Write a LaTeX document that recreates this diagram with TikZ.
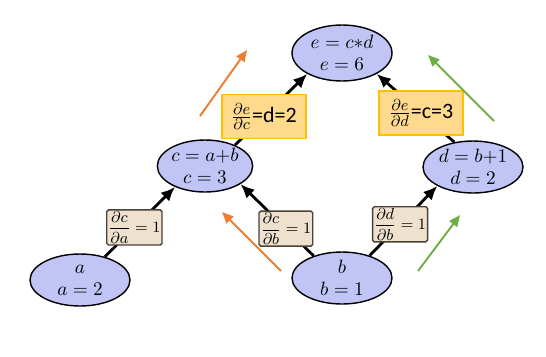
\documentclass[tikz,border=0pt]{standalone}
\usepackage{amsmath}
\usepackage{fontspec}
\usetikzlibrary{shapes.geometric,arrows.meta}

\newfontfamily\gradfont{Carlito}
\definecolor{varblue}{RGB}{192,197,245}
\definecolor{tanfill}{RGB}{238,225,205}
\definecolor{tanline}{RGB}{75,65,55}
\definecolor{goldfill}{RGB}{255,217,140}
\definecolor{goldline}{RGB}{255,192,0}
\definecolor{backorange}{RGB}{237,125,49}
\definecolor{backgreen}{RGB}{112,173,71}

\begin{document}
\begin{tikzpicture}[x=0.02cm, y=-0.02cm, line width=1.6pt,
  var/.style={ellipse, draw=black, line width=0.8pt, fill=varblue,
    minimum width=2cm, minimum height=1.04cm, inner sep=0pt, align=center,
    font=\fontsize{11}{12.5}\selectfont},
  deriv/.style={draw=tanline, line width=0.8pt, fill=tanfill,
    rounded corners=1pt, inner sep=0.9pt, font=\fontsize{9.2}{11}\selectfont},
  grad/.style={draw=goldline, line width=0.8pt, fill=goldfill,
    minimum width=1.68cm, minimum height=0.88cm, inner sep=1pt,
    font=\gradfont\fontsize{12.5}{14}\selectfont},
  flow/.style={-{Latex[length=8pt,width=7pt]}},
  hint/.style={line width=1.1pt, -{Triangle[length=6.5pt,width=5.5pt]}}]

\useasboundingbox (0,0) rectangle (546,356);

% variables
\node[var, minimum height=1.12cm] (e) at (342,53) {$e=c{*}d$\\$e=6$};
\node[var, minimum width=1.8cm] (c) at (205,166) {$c=a{+}b$\\$c=3$};
\node[var] (d) at (473,167) {$d=b{+}1$\\$d=2$};
\node[var] (a) at (80,280) {$a$\\$a=2$};
\node[var] (b) at (342,278) {$b$\\$b=1$};

% local derivatives on the edges
\draw[flow] (a.43) -- node[deriv, pos=0.42] (dca)
  {$\dfrac{\partial c}{\partial a}=1$} (c.215);
\draw[flow] (b.142) -- node[deriv, pos=0.38] (dcb)
  {$\dfrac{\partial c}{\partial b}=1$} (c.333);
\draw[flow] (b.39) -- node[deriv, pos=0.45] (ddb)
  {$\dfrac{\partial d}{\partial b}=1$} (d.208);
\draw[flow] (c.35) -- node[grad, pos=0.4] (dec)
  {$\frac{\partial e}{\partial c}$=d=2} (e.211);
\draw[flow] (d.127) -- node[grad, pos=0.43] (ded)
  {$\frac{\partial e}{\partial d}$=c=3} (e.329);

% backward hints
\coordinate (o1s) at (200,116);
\coordinate (o1e) at (247,50);
\coordinate (o2s) at (281,271);
\coordinate (o2e) at (222,212);
\coordinate (g1s) at (494,121);
\coordinate (g1e) at (428,55);
\coordinate (g2s) at (418,271);
\coordinate (g2e) at (460,215);
\draw[hint, backorange] (o1s) -- (o1e);
\draw[hint, backorange] (o2s) -- (o2e);
\draw[hint, backgreen] (g1s) -- (g1e);
\draw[hint, backgreen] (g2s) -- (g2e);

\end{tikzpicture}
\end{document}
